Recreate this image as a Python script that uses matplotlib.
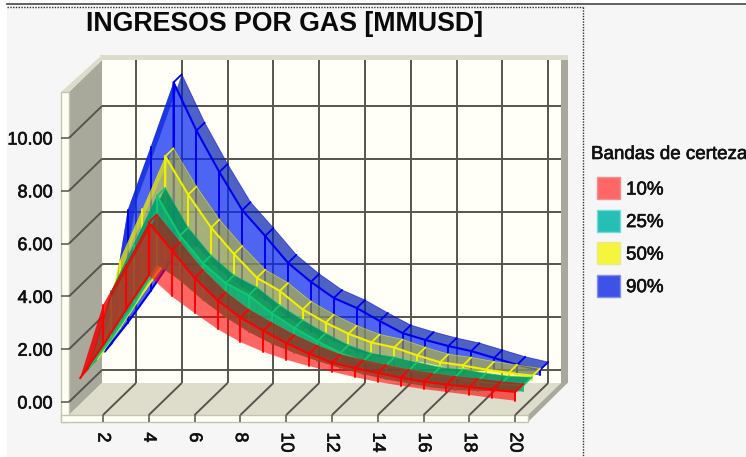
import matplotlib
matplotlib.use("Agg")
import matplotlib.pyplot as plt
from matplotlib.patches import Patch
from matplotlib.lines import Line2D
import matplotlib.patheffects as pe
import numpy as np

plt.rcParams['font.family'] = ['Liberation Sans', 'DejaVu Sans']

TITLE = "INGRESOS POR GAS [MMUSD]"
LEGEND_TITLE = "Bandas de certeza"
years = list(range(1, 21))
x_ticks = list(range(2, 21, 2))
y_ticks = [0, 2, 4, 6, 8, 10]

red_high = [0.9, 3.67, 5.2, 6.8, 5.75, 4.7, 3.85, 3.2, 2.7, 2.23, 1.83, 1.49, 1.28, 1.1, 0.92, 0.77, 0.66, 0.57, 0.47, 0.38]
red_low = [0.9, 2.15, 3.5, 4.8, 4.0, 3.37, 2.76, 2.27, 1.9, 1.6, 1.36, 1.15, 0.94, 0.76, 0.62, 0.49, 0.38, 0.27, 0.15, 0.05]
teal_high = [0.95, 3.9, 5.7, 7.5, 6.0, 4.95, 4.2, 3.74, 3.06, 2.5, 2.0, 1.55, 1.24, 1.09, 0.9, 0.71, 0.63, 0.48, 0.37, 0.33]
teal_low = [0.95, 2.1, 3.4, 4.9, 4.3, 3.55, 2.9, 2.35, 1.9, 1.55, 1.25, 0.98, 0.75, 0.55, 0.4, 0.25, 0.15, 0.12, 0.1, 0.1]
yellow_high = [1.0, 4.75, 6.7, 8.7, 7.25, 6.0, 5.0, 4.1, 3.6, 2.9, 2.4, 1.98, 1.65, 1.46, 1.16, 0.9, 0.78, 0.62, 0.5, 0.36]
yellow_low = [1.0, 2.2, 3.5, 4.7, 4.83, 3.88, 3.1, 2.5, 2.0, 1.6, 1.23, 0.93, 0.78, 0.6, 0.5, 0.42, 0.36, 0.3, 0.26, 0.22]
blue_high = [1.0, 6.36, 8.75, 11.2, 9.37, 7.8, 6.36, 5.38, 4.36, 3.64, 3.03, 2.65, 2.16, 1.7, 1.44, 1.21, 1.02, 0.76, 0.5, 0.3]
blue_low = [1.0, 2.1, 3.3, 4.6, 5.0, 4.1, 3.45, 2.95, 2.3, 1.75, 1.4, 1.0, 0.83, 0.72, 0.57, 0.38, 0.34, 0.27, 0.19, 0.1]

W, H = 746, 457
PX_X, PX_Y = 22.9, 26.4          # pixels per data unit
X0_PX, Y0_PX = 103 - 2 * PX_X, 402  # pixel of x=0 and y=0
DX, DY = 33 / PX_X, 32 / PX_Y    # full chart depth in data units

fig = plt.figure(figsize=(W / 100, H / 100), dpi=100, facecolor="#F6F6F6")
L, R, T, B = 61, 528, 92, 422
ax = fig.add_axes([L / W, 1 - B / H, (R - L) / W, (B - T) / H])
ax.set_xlim((L - X0_PX) / PX_X, (R - X0_PX) / PX_X)
ax.set_ylim((Y0_PX - B) / PX_Y, (Y0_PX - T) / PX_Y)
ax.patch.set_visible(False)
for s in ax.spines.values():
    s.set_visible(False)

xl, xr = ax.get_xlim()
yb, yt = ax.get_ylim()
x_wall = (69 - X0_PX) / PX_X
y_floor = (Y0_PX - 415) / PX_Y
edge_px_x = 6.5 / PX_X
edge_px_y = 5 / PX_Y


def proj(x, y, d):
    return np.asarray(x, float) + d * DX, np.asarray(y, float) + d * DY


def quad(points, fc, ec="none", z=1, lw=0.6):
    xs, ys = zip(*[proj(*p) for p in points])
    ax.fill(xs, ys, fc=fc, ec=ec, lw=lw, zorder=z, clip_on=False)


# back wall
quad([(x_wall, y_floor, 1), (xr, y_floor, 1), (xr, yt, 1), (x_wall, yt, 1)], "#FFFFF8", z=1)
# left wall
quad([(x_wall, y_floor, 0), (x_wall, yt, 0), (x_wall, yt, 1), (x_wall, y_floor, 1)], "#A9A99B", z=1)
# floor
quad([(x_wall, y_floor, 0), (xr, y_floor, 0), (xr, y_floor, 1), (x_wall, y_floor, 1)], "#DEDDCC", z=1)
# right edge of the box
quad([(xr, y_floor, 1), (xr + edge_px_x, y_floor, 1), (xr + edge_px_x, yt + edge_px_y, 1), (xr, yt + edge_px_y, 1)], "#A9A99B", z=1)
quad([(xr, yb, 0), (xr + edge_px_x, y_floor, 1), (xr, y_floor, 1), (xr, y_floor, 0)], "#A9A99B", z=1)
# top edge of the box
quad([(x_wall, yt, 1), (xr + edge_px_x, yt, 1), (xr + edge_px_x, yt + edge_px_y, 1), (x_wall - edge_px_x * 0.3, yt + edge_px_y, 1)], "#DCDCCB", z=1)
quad([(xl, yt, 0), (x_wall, yt, 0), (x_wall, yt, 1), (x_wall, yt + edge_px_y, 1)], "#DCDCCB", z=1)
# front edges
quad([(xl, yb, 0), (x_wall, yb, 0), (x_wall, yt, 0), (xl, yt, 0)], "#FFFFF4", ec="#C4C4B4", z=1, lw=1)
quad([(xl, yb, 0), (xr, yb, 0), (xr, y_floor, 0), (xl, y_floor, 0)], "#FFFFF4", ec="#C4C4B4", z=1, lw=1)

GRID = dict(color="#55554E", lw=1.4, zorder=2, clip_on=False, solid_capstyle="butt")
for v in y_ticks:
    ax.plot(*proj([x_wall, x_wall], [v, v], np.array([0, 1])), **GRID)
    ax.plot(*proj([x_wall, xr], [v, v], 1), **GRID)
for v in x_ticks:
    ax.plot(*proj([v, v], [y_floor, y_floor], np.array([0, 1])), **GRID)
    ax.plot(*proj([v, v], [y_floor, yt], 1), **GRID)

series = [
    ("90%", blue_low, blue_high, "#0A28F0", "#0A24B0", "#0000F0", 0.75, 0.72),
    ("50%", yellow_low, yellow_high, "#FFFF00", "#D0D000", "#F0F000", 0.5, 0.5),
    ("25%", teal_low, teal_high, "#00A878", "#009060", "#10C870", 0.25, 0.9),
    ("10%", red_low, red_high, "#FF0000", "#C40000", "#FF0000", 0.0, 0.6),
]
PEAK = years.index(4)
x_arr = np.array(years, float)
for i, (name, low, high, face, top, line, d0, alpha) in enumerate(series):
    low, high = np.array(low), np.array(high)
    d1 = d0 + 0.25
    z = 3 + i
    fx, fy = proj(x_arr, high, d0)
    bx, by = proj(x_arr, high, d1)
    lx, ly = proj(x_arr, low, d0)
    ax.fill(np.r_[fx, bx[::-1]], np.r_[fy, by[::-1]], fc=top, alpha=alpha, lw=0, zorder=z, clip_on=False)
    ax.fill(np.r_[fx, lx[::-1]], np.r_[fy, ly[::-1]], fc=face, alpha=alpha, lw=0, zorder=z, clip_on=False)
    kw = dict(color=line, zorder=z + 0.5, clip_on=False, solid_capstyle="round")
    ax.plot(np.r_[lx[:PEAK + 1], fx[PEAK:]], np.r_[ly[:PEAK + 1], fy[PEAK:]], lw=1.5, **kw)
    ax.plot(bx[PEAK:], by[PEAK:], lw=0.6, alpha=0.6, **kw)
    for j in range(1, len(years)):
        ax.plot([fx[j], lx[j]], [fy[j], ly[j]], lw=1.4, **kw)
        if j >= PEAK:
            ax.plot([fx[j], bx[j]], [fy[j], by[j]], lw=1.3, **kw)

BOLDISH = [pe.withStroke(linewidth=0.45, foreground="#111111")]
ax.set_xticks(x_ticks)
ax.set_yticks(y_ticks)
ax.set_yticklabels([f"{v:.2f}" for v in y_ticks])
ax.tick_params(axis="x", direction="in", length=5, width=1.1, color="#55554E", labelsize=13,
               labelrotation=270, pad=7.5, labelcolor="#111111")
ax.tick_params(axis="y", direction="in", length=5.5, width=1.1, color="#55554E", labelsize=13,
               pad=6, labelcolor="#111111")
for t in ax.get_xticklabels() + ax.get_yticklabels():
    t.set_zorder(20)
    t.set_path_effects(BOLDISH)

fig.text(285 / W, 1 - 24 / H, TITLE, ha="center", va="center", fontsize=19.3, fontweight="bold", color="#0A0A0A")

handles = [
    Patch(fc="#FF6666", ec="#F09090", lw=1),
    Patch(fc="#26BFB5", ec="#70DCD4", lw=1),
    Patch(fc="#F5F53C", ec="#E8E890", lw=1),
    Patch(fc="#3F52E8", ec="#8090F0", lw=1),
]
leg = fig.legend(handles, [s[0] for s in series[::-1]], title=LEGEND_TITLE, loc="upper left",
                 bbox_to_anchor=(591 / W, 1 - 146 / H), bbox_transform=fig.transFigure,
                 frameon=False, fontsize=13.5, title_fontsize=13.5, handlelength=1.23, handleheight=1.43,
                 labelspacing=0.56, handletextpad=0.32, borderpad=0, borderaxespad=0, alignment="left")
leg._legend_box.sep = 6
leg._legend_handle_box.pad = 4.3
for t in leg.get_texts():
    t.set_color("#111111")
    t.set_path_effects(BOLDISH)
leg.get_title().set_color("#111111")
leg.get_title().set_path_effects(BOLDISH)

# window frame of the screenshot
fr = fig.transFigure
def seg(x0, y0, x1, y1, **k):
    fig.add_artist(Line2D([x0 / W, x1 / W], [1 - y0 / H, 1 - y1 / H], transform=fr, **k))
fig.patches.append(plt.Rectangle((0, 0), 7 / W, 1, transform=fr, fc="white", ec="none", figure=fig))
fig.patches.append(plt.Rectangle((0, 1 - 4 / H), 1, 4 / H, transform=fr, fc="white", ec="none", figure=fig))
seg(7, 4, 746, 4, color="#555555", lw=1.3)
seg(7, 7, 583, 7, color="#333333", lw=1.0, ls=(0, (1, 1)))
seg(583, 7, 583, 457, color="#333333", lw=1.0, ls=(0, (1, 1)))

fig.savefig("out.png", dpi=100, facecolor=fig.get_facecolor())
